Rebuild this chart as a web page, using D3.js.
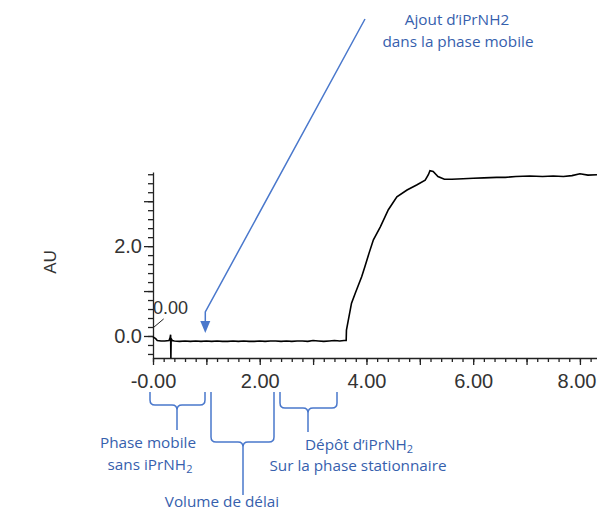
<!DOCTYPE html>
<html><head><meta charset="utf-8">
<script src="https://cdn.jsdelivr.net/npm/d3@7"></script>
<style>
body{margin:0;background:#fff;}
svg{display:block;font-family:"Liberation Sans",Arial,sans-serif;}
.ann{font-family:"Open Sans",Lato,sans-serif;fill:#3660ad;font-size:15.3px;}
</style></head>
<body>
<svg id="c" width="597" height="512"></svg>
<script>
// Chromatogram data (time in min, absorbance AU)
const times = [0,0.05,0.08,0.15,0.22,0.3,0.32,0.33,0.335,0.34,0.36,0.4,0.5,0.6,0.7,0.8,0.9,1.0,1.1,1.2,1.3,1.4,1.5,1.6,1.7,1.8,1.9,2.0,2.1,2.2,2.3,2.4,2.5,2.6,2.7,2.8,2.9,3.0,3.1,3.2,3.3,3.4,3.5,3.58,3.62,3.625,3.72,3.79,3.91,3.97,4.05,4.13,4.26,4.41,4.57,4.76,4.94,5.10,5.16,5.19,5.25,5.34,5.46,5.6,5.81,6.0,6.2,6.44,6.6,6.8,7.06,7.3,7.5,7.69,7.85,8.0,8.15,8.32];
const absorb = [-0.02,-0.06,-0.10,-0.11,-0.11,-0.10,-0.04,0.03,-0.49,-0.06,-0.10,-0.11,-0.12,-0.11,-0.12,-0.11,-0.12,-0.11,-0.12,-0.11,-0.12,-0.12,-0.11,-0.12,-0.11,-0.12,-0.12,-0.11,-0.12,-0.11,-0.11,-0.12,-0.11,-0.12,-0.11,-0.11,-0.12,-0.10,-0.11,-0.12,-0.11,-0.10,-0.11,-0.10,-0.10,0.13,0.73,0.95,1.32,1.54,1.85,2.14,2.43,2.81,3.10,3.25,3.36,3.47,3.59,3.68,3.66,3.55,3.49,3.49,3.50,3.51,3.52,3.53,3.53,3.55,3.56,3.55,3.56,3.55,3.57,3.61,3.58,3.59];
const xMinorTicks = d3.range(0, 8.31, 0.2).map(v => +v.toFixed(1));
const xMajorTicks = [0,1,2,3,4,5,6,7,8];
const xTickLabels = ["-0.00","","2.00","","4.00","","6.00","","8.00"];
const yMinorTicks = d3.range(-0.4, 3.61, 0.2).map(v => +v.toFixed(1));
const yMajorTicks = [0,1,2,3];
const yTickLabels = ["0.0","","2.0",""];
const yTitle = "AU";
const peakLabel = "0.00";

const svg = d3.select("#c");
const x = d3.scaleLinear().domain([0, 8.32]).range([153, 597]);
const y = d3.scaleLinear().domain([-0.49, 3.65]).range([358, 172]);
const x0 = 153, yb = 358;

// axes
const gx = svg.append("g").attr("transform", `translate(0,${yb})`);
gx.call(d3.axisBottom(x).tickValues(xMinorTicks).tickSize(4).tickSizeOuter(0).tickFormat(""));
const gx2 = svg.append("g").attr("transform", `translate(0,${yb})`);
gx2.call(d3.axisBottom(x).tickValues(xMajorTicks).tickSize(7).tickSizeOuter(0).tickPadding(9)
  .tickFormat((d,i) => xTickLabels[i]));
gx2.select(".domain").remove();
const gy = svg.append("g").attr("transform", `translate(${x0},0)`);
gy.call(d3.axisLeft(y).tickValues(yMinorTicks).tickSize(5).tickSizeOuter(0).tickFormat(""));
const gy2 = svg.append("g").attr("transform", `translate(${x0},0)`);
gy2.call(d3.axisLeft(y).tickValues(yMajorTicks).tickSize(9).tickSizeOuter(0).tickPadding(2)
  .tickFormat((d,i) => yTickLabels[i]));
gy2.select(".domain").remove();
svg.selectAll(".tick line, .domain").attr("stroke", "#222").attr("stroke-width", 1.3);
svg.selectAll(".tick text").attr("font-size", 20).attr("fill", "#333")
  .attr("font-family", '"Liberation Sans",Arial,sans-serif');
// keep the last label inside the frame, as in the reference
gx2.selectAll(".tick text").filter(d => d === 8).attr("text-anchor", "end").attr("x", 597 - x(8) - 1);

svg.append("text").attr("transform", "translate(56,262) rotate(-90)")
  .attr("text-anchor", "middle").attr("font-size", 17).attr("fill", "#333").text(yTitle);

// peak label at t=0
svg.append("line").attr("x1", x(0)).attr("y1", y(0.18)).attr("x2", x(0.2)).attr("y2", y(0.38))
  .attr("stroke", "#222").attr("stroke-width", 1);
svg.append("text").attr("x", x(0)).attr("y", 314).attr("font-size", 18).attr("fill", "#333").text(peakLabel);

// trace
const pts = times.map((t,i) => [t, absorb[i]]);
svg.append("path").datum(pts)
  .attr("d", d3.line().x(d => x(d[0])).y(d => y(d[1])))
  .attr("fill", "none").attr("stroke", "#000").attr("stroke-width", 1.6);

// blue annotation arrow
const blue = "#4a78cc";
const ax = x(0.98);
svg.append("path").attr("d", `M365,19 L${ax},312 L${ax},322`)
  .attr("fill", "none").attr("stroke", blue).attr("stroke-width", 1.5);
svg.append("path").attr("d", `M${ax-5},321 L${ax+5},321 L${ax},333 Z`).attr("fill", blue);
svg.append("text").attr("class","ann").attr("x", 457).attr("y", 25).attr("text-anchor","middle").text("Ajout d’iPrNH2");
svg.append("text").attr("class","ann").attr("x", 458).attr("y", 47).attr("text-anchor","middle").text("dans la phase mobile");

// braces
function brace(xa, xb, xm, top, bar, tip){
  const r = 5;
  return `M${xa},${top} L${xa},${bar-r} Q${xa},${bar} ${xa+r},${bar} L${xm-r},${bar} Q${xm},${bar} ${xm},${bar+r} L${xm},${tip}` +
         ` M${xm},${bar+r} Q${xm},${bar} ${xm+r},${bar} L${xb-r},${bar} Q${xb},${bar} ${xb},${bar-r} L${xb},${top}`;
}
const braces = [[150,205,177,392,405,430],[211,274,243,392,442,495],[280,337,308,392,408,432]];
braces.forEach(b => svg.append("path").attr("d", brace(...b)).attr("fill","none").attr("stroke", blue).attr("stroke-width",1.5));

function label(xc, yc, parts){
  const t = svg.append("text").attr("class","ann").attr("x", xc).attr("y", yc).attr("text-anchor","middle");
  parts.forEach(p => {
    if (p.sub) t.append("tspan").attr("baseline-shift","-25%").attr("font-size", 11).text(p.sub);
    else t.append("tspan").text(p.t);
  });
}
label(148, 448, [{t:"Phase mobile"}]);
label(150, 470, [{t:"sans iPrNH"},{sub:"2"}]);
label(222, 507, [{t:"Volume de délai"}]);
label(359, 450, [{t:"Dépôt d’iPrNH"},{sub:"2"}]);
label(358, 471, [{t:"Sur la phase stationnaire"}]);
</script>
</body></html>
